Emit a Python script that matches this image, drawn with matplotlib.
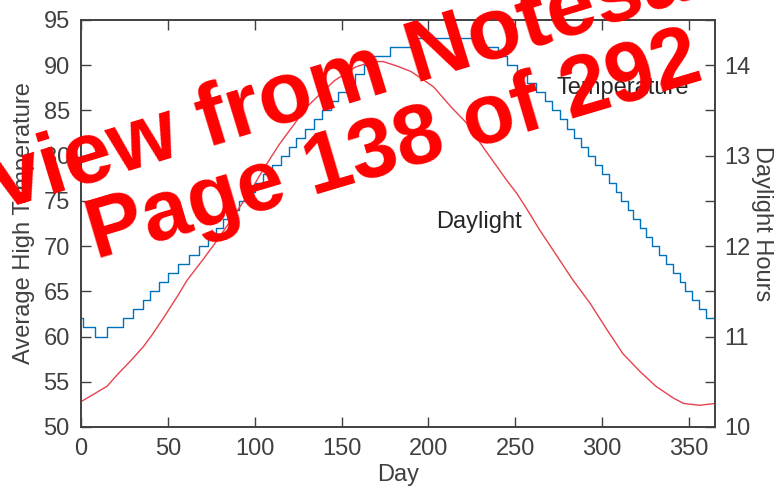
"""
average high temperature vs daylight hours, two y axes
"""

import numpy as np
import matplotlib
matplotlib.use("Agg")
import matplotlib.pyplot as plt
from matplotlib.ticker import MultipleLocator

plt.rcParams['font.family'] = ['Liberation Sans', 'DejaVu Sans']

# Example data

# temperature is a step series: day where each new value starts
temp_days = [0, 1, 8, 15, 24, 30, 36, 40, 45, 50, 56, 62, 68, 73, 78, 82, 86,
             91, 96, 100, 105, 110, 115, 120, 124, 129, 134, 139, 144, 148,
             153, 158, 163, 167, 178, 190,
             231, 240, 245, 251, 257, 262, 267, 271, 276, 280, 284, 288, 292,
             296, 300, 304, 308, 311, 315, 318, 322, 325, 329, 333, 337, 341,
             345, 348, 352, 356, 360, 365]
temp_values = [62, 61, 60, 61, 62, 63, 64, 65, 66, 67, 68, 69, 70, 71, 72, 73, 74,
               75, 76, 77, 78, 79, 80, 81, 82, 83, 84, 85, 86, 87,
               88, 89, 90, 91, 92, 93,
               92, 91, 90, 89, 88, 87, 86, 85, 84, 83, 82, 81, 80,
               79, 78, 77, 76, 75, 74, 73, 72, 71, 70, 69, 68, 67,
               66, 65, 64, 63, 62, 62]

daylight_days = [0, 8, 15, 21, 29, 36, 41, 48, 56, 61, 71, 79, 85, 91, 98,
                 105, 114, 124, 128, 136, 146, 158, 168, 174, 182, 190, 197,
                 203, 213, 222, 232, 245, 251, 257, 264, 273, 283, 293, 303,
                 312, 322, 331, 341, 347, 356, 365]
daylight_hours = [10.28, 10.37, 10.45, 10.58, 10.74, 10.89, 11.02, 11.22, 11.46,
                  11.62, 11.87, 12.08, 12.25, 12.42, 12.62, 12.85, 13.12, 13.38,
                  13.50, 13.65, 13.83, 13.98, 14.04, 14.04, 13.99, 13.93, 13.84,
                  13.76, 13.54, 13.36, 13.08, 12.73, 12.58, 12.40, 12.18, 11.92,
                  11.63, 11.37, 11.07, 10.81, 10.61, 10.45, 10.32, 10.26, 10.24,
                  10.26]

x_ticks = [0, 50, 100, 150, 200, 250, 300, 350]
left_ticks = [50, 55, 60, 65, 70, 75, 80, 85, 90, 95]
right_ticks = [10, 11, 12, 13, 14]

axis_color = '#404040'
blue = '#0072BD'
red = '#E8414F'
font_size = 17

fig = plt.figure(figsize=(7.77, 4.93), dpi=100)
ax = fig.add_axes([0.1042, 0.1339, 0.816, 0.8256])
ax2 = ax.twinx()

ax.plot(temp_days, temp_values, color=blue, lw=1.0, drawstyle='steps-post')
ax2.plot(daylight_days, daylight_hours, color=red, lw=1.0)

ax.set_xlim(0, 365)
ax.set_ylim(50, 95)
ax2.set_ylim(10, 14.5)

ax.set_xticks(x_ticks)
ax.set_yticks(left_ticks)
ax2.set_yticks(right_ticks)
ax2.yaxis.set_minor_locator(MultipleLocator(0.5))

ax.tick_params(axis='x', direction='in', length=7, width=1, top=True,
               colors=axis_color, labelsize=font_size, pad=8)
ax.tick_params(axis='y', direction='in', length=7, width=1, right=False,
               colors=axis_color, labelsize=font_size, pad=8)
ax2.tick_params(axis='y', which='both', direction='in', length=7, width=1,
                colors=axis_color, labelsize=font_size, pad=7)

for a in (ax, ax2):
    for s in a.spines.values():
        s.set_color(axis_color)
        s.set_linewidth(1.2)

ax.set_xlabel('Day', fontsize=font_size, color=axis_color, labelpad=3)
ax.set_ylabel('Average High Temperature', fontsize=font_size, color=axis_color,
              labelpad=6)
ax2.set_ylabel('Daylight Hours', fontsize=font_size, color=axis_color,
               rotation=270, labelpad=16)

ax.text(312, 87.5, 'Temperature', ha='center', va='center',
        fontsize=font_size, color='#262626')
ax.text(229, 72.7, 'Daylight', ha='center', va='center',
        fontsize=font_size, color='#262626')

# watermark over the chart
fig.text(0.553, 0.888, 'Preview from Notesale.co.uk', color='#FF0000',
         fontsize=63, fontweight='bold', rotation=17, rotation_mode='anchor',
         ha='center', va='center')
fig.text(0.508, 0.70, 'Page 138 of 292', color='#FF0000',
         fontsize=61, fontweight='bold', rotation=16.5, rotation_mode='anchor',
         ha='center', va='center')

fig.savefig('out.png', dpi=100)
